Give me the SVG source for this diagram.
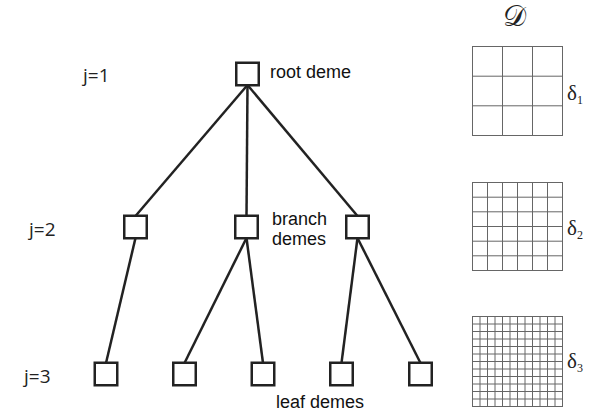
<svg xmlns="http://www.w3.org/2000/svg" width="589" height="415" viewBox="0 0 589 415">
<style>
.box{fill:#fff;stroke:#222;stroke-width:2.5}
.edge{stroke:#222;stroke-width:2.5;fill:none}
.lbl{font-family:"Liberation Sans",Arial,sans-serif;font-size:18px;fill:#111}
.lvl{font-family:"Open Sans",sans-serif;font-size:19px;fill:#222}
.grid{fill:none;stroke:#666;stroke-width:1}
.gtxt{font-family:"Liberation Serif","DejaVu Serif",serif;fill:#222}
</style>
<rect width="589" height="415" fill="#fff"/>
<g id="connectors">
<line class="edge" x1="247.5" y1="85" x2="135.5" y2="216"/>
<line class="edge" x1="247.5" y1="85" x2="246.5" y2="216"/>
<line class="edge" x1="247.5" y1="85" x2="357.5" y2="216"/>
<line class="edge" x1="135.5" y1="238" x2="106" y2="363"/>
<line class="edge" x1="246.5" y1="238" x2="184.5" y2="363"/>
<line class="edge" x1="246.5" y1="238" x2="263" y2="363"/>
<line class="edge" x1="357.5" y1="238" x2="341.5" y2="363"/>
<line class="edge" x1="357.5" y1="238" x2="420.5" y2="363"/>
</g>
<g id="root"><rect class="box" x="236.25" y="62.75" width="22.5" height="22.5"/><text class="lbl" x="270" y="78">root deme</text></g>
<g id="branch1"><rect class="box" x="124.25" y="215.75" width="22.5" height="22.5"/></g>
<g id="branch2"><rect class="box" x="235.25" y="215.75" width="22.5" height="22.5"/><text class="lbl" x="272" y="225">branch</text><text class="lbl" x="272" y="245">demes</text></g>
<g id="branch3"><rect class="box" x="346.25" y="215.75" width="22.5" height="22.5"/></g>
<g id="leaf1"><rect class="box" x="94.75" y="362.75" width="22.5" height="22.5"/></g>
<g id="leaf2"><rect class="box" x="173.25" y="362.75" width="22.5" height="22.5"/></g>
<g id="leaf3"><rect class="box" x="251.75" y="362.75" width="22.5" height="22.5"/></g>
<g id="leaf4"><rect class="box" x="330.25" y="362.75" width="22.5" height="22.5"/></g>
<g id="leaf5"><rect class="box" x="409.25" y="362.75" width="22.5" height="22.5"/></g>
<text class="lbl" x="276" y="408">leaf demes</text>
<text class="lvl" x="83" y="82">j=1</text>
<text class="lvl" x="29" y="236">j=2</text>
<text class="lvl" x="24" y="383">j=3</text>
<g id="domain">
<text class="gtxt" x="514" y="26" font-size="29" text-anchor="middle">𝒟</text>
<rect class="grid" x="472.5" y="46.5" width="90" height="89"/>
<path class="grid" d="M502.5 46.5V135.5M532.5 46.5V135.5M472.5 76.2H562.5M472.5 105.8H562.5"/>
<text class="gtxt" x="567" y="100" font-size="21">δ<tspan font-size="12" dy="4">1</tspan></text>
<rect class="grid" x="472.5" y="182.5" width="90" height="88"/>
<path class="grid" d="M487.5 182.5V270.5M502.5 182.5V270.5M517.5 182.5V270.5M532.5 182.5V270.5M547.5 182.5V270.5M472.5 197.2H562.5M472.5 211.8H562.5M472.5 226.5H562.5M472.5 241.2H562.5M472.5 255.8H562.5"/>
<text class="gtxt" x="567" y="235" font-size="21">δ<tspan font-size="12" dy="4">2</tspan></text>
<rect class="grid" x="472.5" y="316.5" width="90" height="90"/>
<path class="grid" d="M480 316.5V406.5M487.5 316.5V406.5M495 316.5V406.5M502.5 316.5V406.5M510 316.5V406.5M517.5 316.5V406.5M525 316.5V406.5M532.5 316.5V406.5M540 316.5V406.5M547.5 316.5V406.5M555 316.5V406.5M472.5 324H562.5M472.5 331.5H562.5M472.5 339H562.5M472.5 346.5H562.5M472.5 354H562.5M472.5 361.5H562.5M472.5 369H562.5M472.5 376.5H562.5M472.5 384H562.5M472.5 391.5H562.5M472.5 399H562.5"/>
<text class="gtxt" x="567" y="368" font-size="21">δ<tspan font-size="12" dy="4">3</tspan></text>
</g>
</svg>
